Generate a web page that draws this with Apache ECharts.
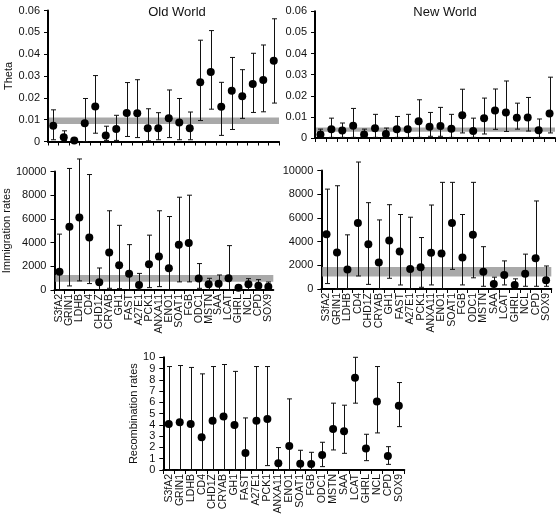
<!DOCTYPE html>
<html>
<head>
<meta charset="utf-8">
<script src="https://cdn.jsdelivr.net/npm/echarts@6/dist/echarts.min.js"></script>
<style>
html,body{margin:0;padding:0;background:#fff;}
#chart{width:558px;height:518px;}
</style>
</head>
<body>
<div id="chart"></div>
<script>
var categories = ['S3fA2','GRIN1','LDHB','CD4','CHD1Z','CRYAB','GH1','FAST','A27E1','PCK1','ANXA11','ENO1','SOAT1','FGB','ODC1','MSTN','SAA','LCAT','GHRL','NCL','CPD','SOX9'];

var thetaOldMean = [0.0072,0.002,0.0005,0.0084,0.016,0.0028,0.0057,0.013,0.0129,0.0061,0.0061,0.0106,0.0087,0.0061,0.0271,0.0318,0.0159,0.0233,0.0207,0.0263,0.0282,0.037];
var thetaOldLow  = [0.0008,0.0005,0.0002,0,0.0038,0.0005,0.0005,0.0023,0.0018,0.0003,0.0008,0.0018,0.0008,0.0008,0.0096,0.0148,0.0028,0.0055,0.0106,0.0133,0.0136,0.0176];
var thetaOldHigh = [0.0145,0.0049,0.0008,0.0197,0.0302,0.007,0.012,0.027,0.0283,0.015,0.0132,0.0236,0.0197,0.0135,0.0464,0.0508,0.0271,0.0385,0.0329,0.0404,0.0442,0.0562];
var thetaOldBand = [0.008, 0.011];

var thetaNewMean = [0.0016,0.0042,0.0035,0.0058,0.0016,0.0046,0.0019,0.0042,0.0041,0.0079,0.0053,0.0057,0.0044,0.0108,0.0033,0.0094,0.013,0.0121,0.0096,0.0097,0.0037,0.0116];
var thetaNewLow  = [0,0.0003,0.0003,0.0003,0,0.0003,0,0.0003,0.0003,0.0003,0.0008,0.0008,0.0003,0.0024,0.0003,0.0019,0.0041,0.0031,0.0042,0.0033,0.0003,0.0024];
var thetaNewHigh = [0.0042,0.0094,0.0071,0.014,0.0042,0.0112,0.0047,0.0102,0.0112,0.0181,0.0121,0.0145,0.0112,0.0231,0.0094,0.0189,0.0232,0.027,0.0165,0.0192,0.009,0.0288];
var thetaNewBand = [0.003, 0.005];

var immOldMean = [1543,5343,6114,4429,650,3171,2086,1371,420,2171,2829,1829,3829,3971,980,479,535,986,197,479,366,282];
var immOldLow  = [0,343,771,543,0,143,114,0,0,200,286,0,686,686,140,0,0,0,0,0,0,0];
var immOldHigh = [4714,10257,11057,9743,1857,6686,5457,3829,1400,4629,6686,6200,7829,8000,2230,986,1268,3746,400,958,873,676];
var immOldBand = [700, 1260];

var immNewMean = [4629,3086,1650,5560,3780,2235,4102,3168,1697,1830,3057,3000,5571,2657,4571,1457,429,1171,343,1286,2600,743];
var immNewLow  = [460,0,0,1100,390,0,905,339,0,143,343,0,1657,343,943,229,0,343,0,229,229,229];
var immNewHigh = [8429,8714,4571,10714,7286,5829,7114,6286,6057,4343,7086,9000,9000,6286,9000,3571,1000,2371,857,2943,7429,1943];
var immNewBand = [1050, 1850];

var recMean = [4.09,4.24,4.09,2.9,4.36,4.74,4.0,1.51,4.36,4.53,0.59,2.13,0.56,0.53,1.33,3.64,3.44,8.18,1.9,6.07,1.24,5.69];
var recLow  = [0,0,0,0,0,0,0,0,0,0.39,0,0,0,0,0.3,1.78,1.48,5.93,0.83,3.29,0.5,3.85];
var recHigh = [9.18,9.27,9.1,8.53,9.18,9.36,8.75,4.62,9.18,9.18,1.99,6.31,1.75,1.57,2.46,5.93,5.75,10.0,3.17,9.18,2.07,7.76];

var FONT = "'Liberation Sans', Arial, sans-serif";

var grids = [
  {left:48, top:10.5, width:231, height:131},
  {left:315, top:11.3, width:240, height:126.7},
  {left:53.3, top:171.5, width:220, height:118.5},
  {left:321.3, top:170.5, width:230, height:118.5},
  {left:163.3, top:357.3, width:241, height:112.7}
];

function xAx(i, showLabels){
  return {
    type:'category', gridIndex:i, data:categories, boundaryGap:true,
    axisLine:{lineStyle:{color:'#000', width:2}},
    axisTick:{show:true, alignWithLabel:false, interval:0, length:4, lineStyle:{color:'#000', width:1}},
    axisLabel:{show:showLabels, rotate:90, interval:0, fontSize:10.5, color:'#111', fontFamily:FONT, margin:4}
  };
}
function yAx(i, max, interval, name, gap){
  return {
    type:'value', gridIndex:i, min:0, max:max, interval:interval,
    name:name, nameLocation:'middle', nameRotate:90, nameGap:gap,
    nameTextStyle:{fontSize:11, color:'#111', fontFamily:FONT},
    axisLine:{show:true, lineStyle:{color:'#000', width:2}},
    axisTick:{show:true, length:4, lineStyle:{color:'#000', width:1}},
    axisLabel:{fontSize:11, color:'#111', fontFamily:FONT, margin:8,
      formatter:function(v){ return String(+v.toFixed(4)); }},
    splitLine:{show:false}
  };
}

function errData(mean, low, high){
  return mean.map(function(m, k){ return [k, low[k], high[k]]; });
}
function ptData(mean){
  return mean.map(function(m, k){ return [k, m]; });
}

function errSeries(i, mean, low, high){
  return {
    type:'custom', xAxisIndex:i, yAxisIndex:i, z:3, clip:false, silent:true,
    data: errData(mean, low, high),
    renderItem: function(params, api){
      var x = api.value(0);
      var pHi = api.coord([x, api.value(2)]);
      var pLo = api.coord([x, api.value(1)]);
      var cx = Math.round(pHi[0]) + 0.5;
      var hw = 2.5;
      var st = {stroke:'#111', lineWidth:1};
      return {type:'group', children:[
        {type:'line', shape:{x1:cx, y1:pHi[1], x2:cx, y2:pLo[1]}, style:st},
        {type:'line', shape:{x1:cx-hw, y1:pHi[1], x2:cx+hw, y2:pHi[1]}, style:st},
        {type:'line', shape:{x1:cx-hw, y1:pLo[1], x2:cx+hw, y2:pLo[1]}, style:st}
      ]};
    }
  };
}
function bandSeries(i, band){
  return {
    type:'custom', xAxisIndex:i, yAxisIndex:i, z:1, silent:true,
    data:[[0, band[0], band[1]]],
    renderItem: function(params, api){
      var cs = params.coordSys;
      var pLo = api.coord([0, api.value(1)]);
      var pHi = api.coord([0, api.value(2)]);
      return {type:'rect', shape:{x:cs.x+1, y:pHi[1], width:cs.width-1, height:pLo[1]-pHi[1]}, style:{fill:'#a9a9a9'}};
    }
  };
}
function ptSeries(i, mean){
  return {
    type:'scatter', xAxisIndex:i, yAxisIndex:i, z:4, silent:true,
    symbol:'circle', symbolSize:8, itemStyle:{color:'#000', opacity:1},
    data: ptData(mean)
  };
}

var option = {
  animation:false,
  backgroundColor:'#fff',
  textStyle:{fontFamily:FONT},
  title:[
    {text:'Old World', left:172, top:1, textAlign:'center', textStyle:{fontSize:13, fontWeight:'normal', color:'#111', fontFamily:FONT}},
    {text:'New World', left:440, top:1, textAlign:'center', textStyle:{fontSize:13, fontWeight:'normal', color:'#111', fontFamily:FONT}}
  ],
  grid: grids,
  xAxis:[xAx(0,false), xAx(1,false), xAx(2,true), xAx(3,true), xAx(4,true)],
  yAxis:[
    yAx(0, 0.06, 0.01, 'Theta', 34),
    yAx(1, 0.06, 0.01, '', 30),
    yAx(2, 10000, 2000, 'Immigration rates', 42),
    yAx(3, 10000, 2000, '', 30),
    yAx(4, 10, 1, 'Recombination rates', 20)
  ],
  series:[
    bandSeries(0, thetaOldBand), errSeries(0, thetaOldMean, thetaOldLow, thetaOldHigh), ptSeries(0, thetaOldMean),
    bandSeries(1, thetaNewBand), errSeries(1, thetaNewMean, thetaNewLow, thetaNewHigh), ptSeries(1, thetaNewMean),
    bandSeries(2, immOldBand), errSeries(2, immOldMean, immOldLow, immOldHigh), ptSeries(2, immOldMean),
    bandSeries(3, immNewBand), errSeries(3, immNewMean, immNewLow, immNewHigh), ptSeries(3, immNewMean),
    errSeries(4, recMean, recLow, recHigh), ptSeries(4, recMean)
  ]
};

var chart = echarts.init(document.getElementById('chart'), null, {renderer:'canvas'});
chart.setOption(option);
</script>
</body>
</html>
